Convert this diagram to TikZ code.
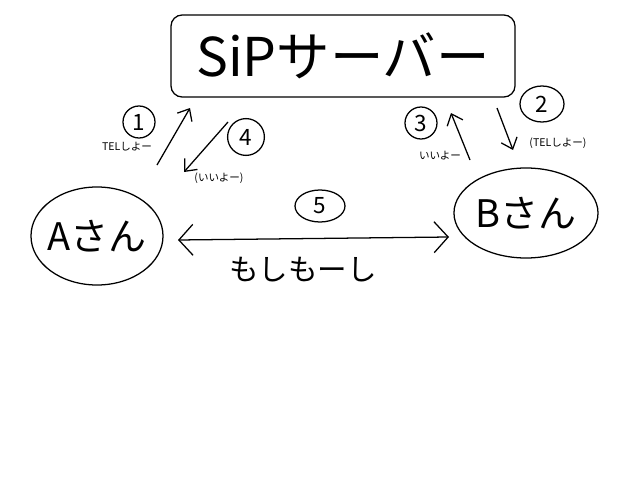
\documentclass[tikz,border=0pt]{standalone}
\usepackage{fontspec}
\setmainfont{Noto Sans CJK JP}
\usetikzlibrary{arrows.meta,shapes.geometric}
\tikzset{
  ink/.style={line width=0.9pt, black},
  arr/.style={ink, -{Straight Barb[length=7pt,width=12pt]}},
  dblarr/.style={ink, {Straight Barb[length=10pt,width=22pt]}-{Straight Barb[length=10pt,width=22pt]}},
  num/.style={circle, draw, ink, inner sep=1pt, minimum size=0.8cm, font=\fontsize{16}{16}\selectfont},
  small/.style={font=\fontsize{7.5}{8}\selectfont},
  person/.style={ellipse, draw, ink},
  ptext/.style={font=\fontsize{27}{27}\selectfont}
}
\begin{document}
\begin{tikzpicture}[x=0.025cm,y=-0.025cm]
\useasboundingbox (0,0) rectangle (640,480);
% server
\node[draw, ink, rounded corners=8pt, minimum width=8.6cm, minimum height=2.05cm,
      font=\fontsize{38}{38}\selectfont] (srv) at (343,56) {SiPサーバー};
% persons
\node[person, minimum width=3.3cm, minimum height=2.45cm] (A) at (97,236) {};
\node[ptext] (At) at (A) {Aさん};
\node[person, minimum width=3.6cm, minimum height=2.25cm] (B) at (526,213) {};
\node[ptext] (Bt) at (B) {Bさん};
% arrow end points
\coordinate (a1s) at (157,165); \coordinate (a1e) at (190,108);
\coordinate (a4s) at (228,122); \coordinate (a4e) at (184,172);
\coordinate (a3s) at (470,160); \coordinate (a3e) at (451,113);
\coordinate (a2s) at (497,108); \coordinate (a2e) at (513,150);
\coordinate (a5s) at (178,240); \coordinate (a5e) at (449,237);
\draw[arr] (a1s) -- (a1e);
\draw[arr] (a4s) -- (a4e);
\draw[arr] (a3s) -- (a3e);
\draw[arr] (a2s) -- (a2e);
\draw[dblarr] (a5s) -- (a5e);
% step numbers
\node[num] (n1) at (139,122) {1};
\node[num, minimum size=0.92cm] (n4) at (246,137) {4};
\node[num] (n3) at (421,123) {3};
\node[num, ellipse, minimum width=1.1cm, minimum height=0.9cm] (n2) at (542,104) {2};
\node[num, ellipse, minimum width=1.25cm, minimum height=0.8cm] (n5) at (320,206) {5};
% labels
\node[small] (l1) at (127,147) {TELしよー};
\node[small] (l4) at (219,178) {(いいよー)};
\node[small] (l3) at (440,156) {いいよー};
\node[small] (l2) at (558,143) {(TELしよー)};
\node[font=\fontsize{21}{21}\selectfont] (l5) at (303,270) {もしもーし};
\end{tikzpicture}
\end{document}
